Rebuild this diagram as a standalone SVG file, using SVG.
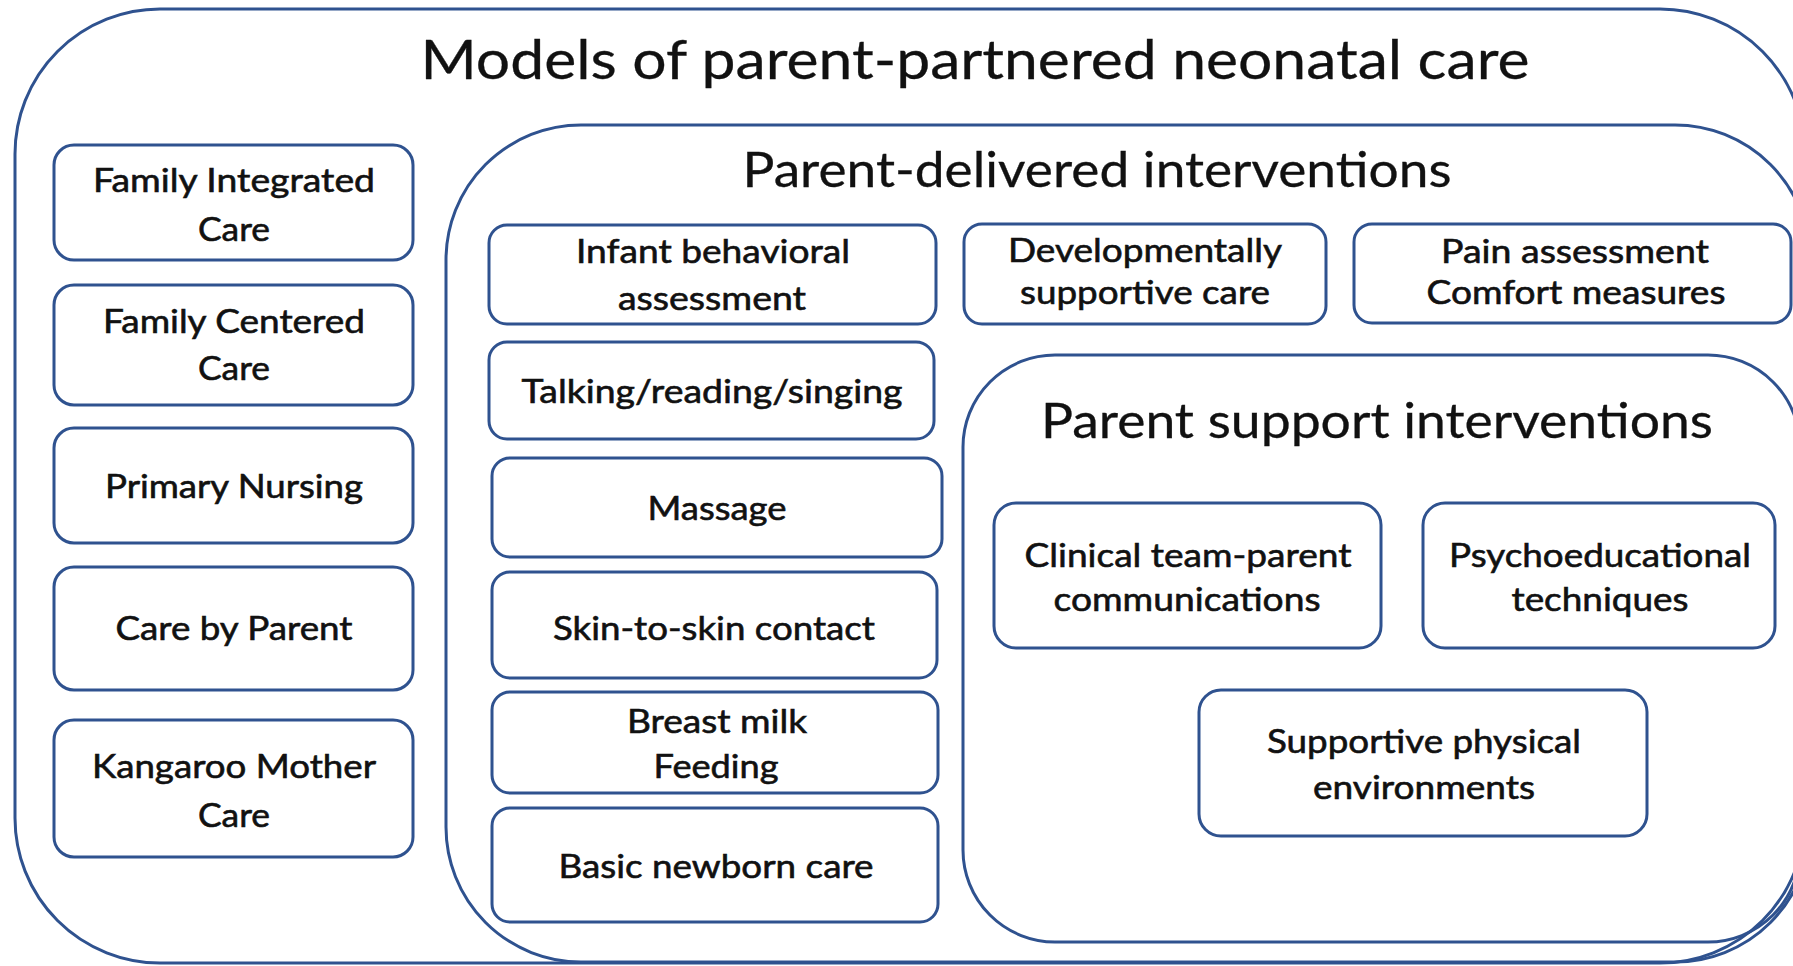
<svg xmlns="http://www.w3.org/2000/svg" width="1793" height="966" viewBox="0 0 1793 966">
<style>
.frame{fill:none;stroke:#2F528F;stroke-width:3}
.box{fill:#fff;stroke:#2F528F;stroke-width:3}
text{font-family:Lato,"Open Sans","Liberation Sans",sans-serif;fill:#111;text-anchor:middle}
.t{font-size:33px;stroke:#111;stroke-width:0.6}
.h1{font-size:55px;stroke:#111;stroke-width:0.3}
.h2{font-size:48px;stroke:#111;stroke-width:0.3}
</style>
<rect width="1793" height="966" fill="#fff"/>
<g id="models">
<rect class="frame" x="15" y="9" width="1790" height="954" rx="145"/>
<text class="h1" x="975" y="79" textLength="1109" lengthAdjust="spacingAndGlyphs">Models of parent-partnered neonatal care</text>
</g>
<g id="parent-delivered">
<rect class="frame" x="446" y="125" width="1364" height="837" rx="135"/>
<text class="h2" x="1097" y="187" textLength="709" lengthAdjust="spacingAndGlyphs">Parent-delivered interventions</text>
</g>
<g id="parent-support">
<rect class="frame" x="963" y="355" width="837" height="587" rx="92"/>
<text class="h2" x="1377" y="438" textLength="672" lengthAdjust="spacingAndGlyphs">Parent support interventions</text>
</g>
<g id="family-integrated-care">
<rect class="box" x="54" y="145" width="359" height="115" rx="20"/>
<text class="t" x="234" y="192" textLength="282" lengthAdjust="spacingAndGlyphs">Family Integrated</text>
<text class="t" x="234" y="241" textLength="72" lengthAdjust="spacingAndGlyphs">Care</text>
</g>
<g id="family-centered-care">
<rect class="box" x="54" y="285" width="359" height="120" rx="20"/>
<text class="t" x="234" y="333" textLength="262" lengthAdjust="spacingAndGlyphs">Family Centered</text>
<text class="t" x="234" y="380" textLength="72" lengthAdjust="spacingAndGlyphs">Care</text>
</g>
<g id="primary-nursing">
<rect class="box" x="54" y="428" width="359" height="115" rx="20"/>
<text class="t" x="234" y="498" textLength="258" lengthAdjust="spacingAndGlyphs">Primary Nursing</text>
</g>
<g id="care-by-parent">
<rect class="box" x="54" y="567" width="359" height="123" rx="20"/>
<text class="t" x="234" y="640" textLength="237" lengthAdjust="spacingAndGlyphs">Care by Parent</text>
</g>
<g id="kangaroo-mother-care">
<rect class="box" x="54" y="720" width="359" height="137" rx="20"/>
<text class="t" x="234" y="778" textLength="284" lengthAdjust="spacingAndGlyphs">Kangaroo Mother</text>
<text class="t" x="234" y="827" textLength="72" lengthAdjust="spacingAndGlyphs">Care</text>
</g>
<g id="infant-behavioral-assessment">
<rect class="box" x="489" y="225" width="447" height="99" rx="18"/>
<text class="t" x="713" y="263" textLength="274" lengthAdjust="spacingAndGlyphs">Infant behavioral</text>
<text class="t" x="712" y="310" textLength="188" lengthAdjust="spacingAndGlyphs">assessment</text>
</g>
<g id="talking-reading-singing">
<rect class="box" x="489" y="342" width="445" height="97" rx="18"/>
<text class="t" x="712" y="403" textLength="381" lengthAdjust="spacingAndGlyphs">Talking/reading/singing</text>
</g>
<g id="massage">
<rect class="box" x="492" y="458" width="450" height="99" rx="18"/>
<text class="t" x="717" y="520" textLength="139" lengthAdjust="spacingAndGlyphs">Massage</text>
</g>
<g id="skin-to-skin">
<rect class="box" x="492" y="572" width="445" height="106" rx="18"/>
<text class="t" x="714" y="640" textLength="322" lengthAdjust="spacingAndGlyphs">Skin-to-skin contact</text>
</g>
<g id="breast-milk-feeding">
<rect class="box" x="492" y="692" width="446" height="101" rx="18"/>
<text class="t" x="717" y="733" textLength="180" lengthAdjust="spacingAndGlyphs">Breast milk</text>
<text class="t" x="716" y="778" textLength="125" lengthAdjust="spacingAndGlyphs">Feeding</text>
</g>
<g id="basic-newborn-care">
<rect class="box" x="492" y="808" width="446" height="114" rx="18"/>
<text class="t" x="716" y="878" textLength="315" lengthAdjust="spacingAndGlyphs">Basic newborn care</text>
</g>
<g id="developmentally-supportive-care">
<rect class="box" x="964" y="224" width="362" height="100" rx="18"/>
<text class="t" x="1145" y="262" textLength="274" lengthAdjust="spacingAndGlyphs">Developmentally</text>
<text class="t" x="1145" y="304" textLength="250" lengthAdjust="spacingAndGlyphs">supportive care</text>
</g>
<g id="pain-assessment">
<rect class="box" x="1354" y="224" width="437" height="99" rx="18"/>
<text class="t" x="1575" y="263" textLength="268" lengthAdjust="spacingAndGlyphs">Pain assessment</text>
<text class="t" x="1576" y="304" textLength="299" lengthAdjust="spacingAndGlyphs">Comfort measures</text>
</g>
<g id="clinical-team-parent">
<rect class="box" x="994" y="503" width="387" height="145" rx="22"/>
<text class="t" x="1188" y="567" textLength="327" lengthAdjust="spacingAndGlyphs">Clinical team-parent</text>
<text class="t" x="1187" y="611" textLength="267" lengthAdjust="spacingAndGlyphs">communications</text>
</g>
<g id="psychoeducational">
<rect class="box" x="1423" y="503" width="352" height="145" rx="22"/>
<text class="t" x="1600" y="567" textLength="302" lengthAdjust="spacingAndGlyphs">Psychoeducational</text>
<text class="t" x="1600" y="611" textLength="177" lengthAdjust="spacingAndGlyphs">techniques</text>
</g>
<g id="supportive-physical-environments">
<rect class="box" x="1199" y="690" width="448" height="146" rx="22"/>
<text class="t" x="1424" y="753" textLength="314" lengthAdjust="spacingAndGlyphs">Supportive physical</text>
<text class="t" x="1424" y="799" textLength="222" lengthAdjust="spacingAndGlyphs">environments</text>
</g>
<g id="connectors"></g>
</svg>
